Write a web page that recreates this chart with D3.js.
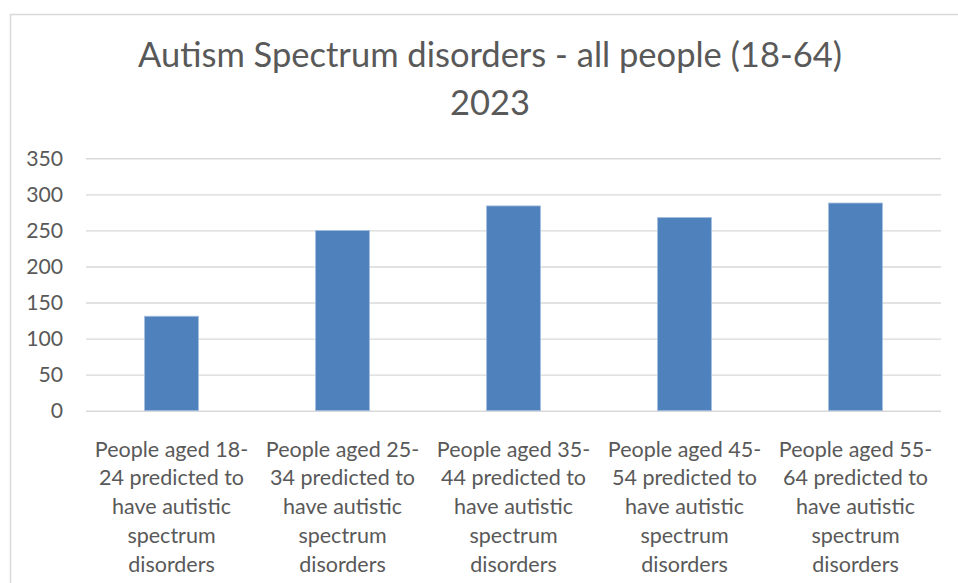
<!DOCTYPE html>
<html>
<head>
<meta charset="utf-8">
<script src="https://cdn.jsdelivr.net/npm/d3@7"></script>
<style>
  body { margin: 0; background: #fff; }
  svg { display: block; }
  text { font-family: Lato, "Open Sans", sans-serif; fill: #595959; }
</style>
</head>
<body>
<script>
const titleLines = ["Autism Spectrum disorders - all people (18-64)", "2023"];

const categories = [
  "People aged 18-24 predicted to have autistic spectrum disorders",
  "People aged 25-34 predicted to have autistic spectrum disorders",
  "People aged 35-44 predicted to have autistic spectrum disorders",
  "People aged 45-54 predicted to have autistic spectrum disorders",
  "People aged 55-64 predicted to have autistic spectrum disorders"
];

const values = [131, 250, 284, 268, 288];

const yTicks = [0, 50, 100, 150, 200, 250, 300, 350];

const w = 958;
const h = 583;
const margin = { top: 158.3, right: 17, bottom: 172.3, left: 86 };

const svg = d3.select("body")
  .append("svg")
  .attr("width", w)
  .attr("height", h);

// chart area border (runs off the right and bottom edge)
svg.append("rect")
  .attr("x", 10.5)
  .attr("y", 14.5)
  .attr("width", 1200)
  .attr("height", 1200)
  .attr("fill", "none")
  .attr("stroke", "#d9d9d9")
  .attr("stroke-width", 1.5);

// title
svg.append("g").selectAll("text")
  .data(titleLines)
  .enter()
  .append("text")
  .attr("x", 490)
  .attr("y", (d, i) => 67 + i * 48.3)
  .attr("text-anchor", "middle")
  .style("font-size", "34.5px")
  .text(d => d);

const xScale = d3.scaleBand()
  .domain(categories)
  .range([margin.left, w - margin.right])
  .paddingInner(0.684)
  .paddingOuter(0.342);

const yScale = d3.scaleLinear()
  .domain([0, 350])
  .range([h - margin.bottom, margin.top]);

// gridlines + y labels
const yAxis = svg.append("g")
  .attr("transform", `translate(${margin.left},0)`)
  .call(d3.axisLeft(yScale)
    .tickValues(yTicks)
    .tickSize(-(w - margin.left - margin.right))
    .tickPadding(23)
    .tickFormat(d3.format("d")));

yAxis.select(".domain").remove();
yAxis.selectAll(".tick line")
  .attr("stroke", "#d9d9d9")
  .attr("stroke-width", 1.4);
yAxis.selectAll(".tick text")
  .style("font-size", "21.2px")
  .attr("fill", "#595959");

// bars
svg.append("g").selectAll("rect")
  .data(values)
  .enter()
  .append("rect")
  .attr("x", (d, i) => xScale(categories[i]))
  .attr("y", d => yScale(d))
  .attr("width", xScale.bandwidth())
  .attr("height", d => yScale(0) - yScale(d))
  .attr("fill", "#4f81bd")
  .attr("stroke", "#a9c1e0")
  .attr("stroke-width", 0.8);

// category labels, wrapped like Excel does (break on spaces and after hyphens)
function wrapLabel(textSel, maxWidth) {
  textSel.each(function (label) {
    const text = d3.select(this);
    const tokens = label.match(/[^\s-]+-?|-/g);
    const lines = [];
    let line = "";
    text.text(null);
    const probe = text.append("tspan");
    tokens.forEach(tok => {
      const sep = (line === "" || line.endsWith("-")) ? "" : " ";
      const trial = line + sep + tok;
      probe.text(trial);
      if (line !== "" && probe.node().getComputedTextLength() > maxWidth) {
        lines.push(line);
        line = tok;
      } else {
        line = trial;
      }
    });
    lines.push(line);
    probe.remove();
    lines.forEach((l, i) => {
      text.append("tspan")
        .attr("x", text.attr("x"))
        .attr("y", 456.7 + i * 28.7)
        .text(l);
    });
  });
}

svg.append("g").selectAll("text")
  .data(categories)
  .enter()
  .append("text")
  .attr("x", d => xScale(d) + xScale.bandwidth() / 2)
  .attr("text-anchor", "middle")
  .style("font-size", "21.5px")
  .text(d => d)
  .call(wrapLabel, 166);
</script>
</body>
</html>
